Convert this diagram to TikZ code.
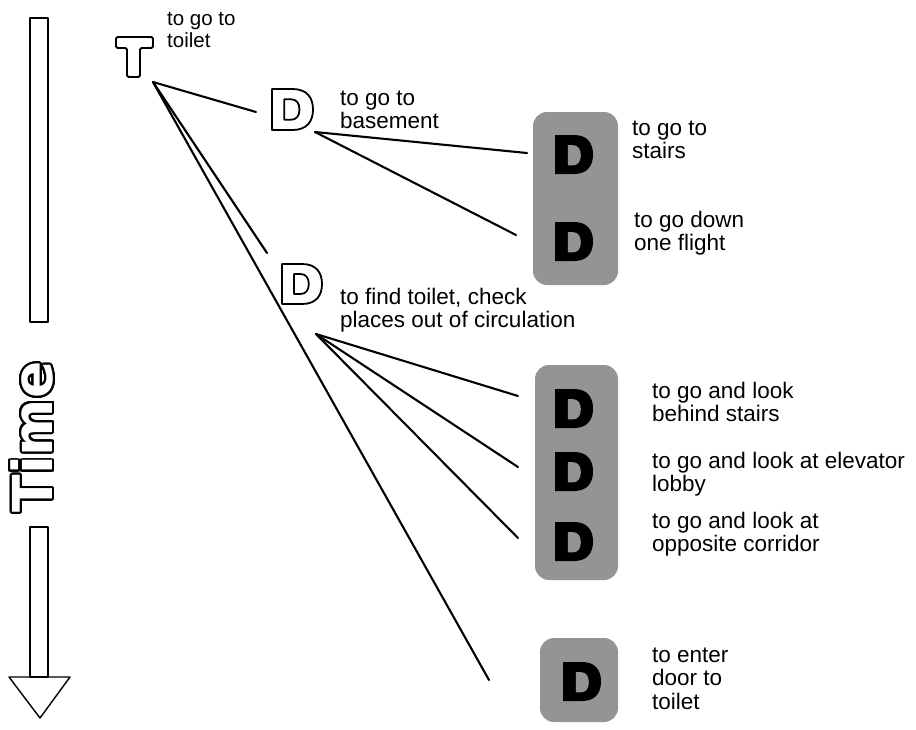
\documentclass[tikz,border=0pt]{standalone}
\usepackage{fontspec}
\setmainfont{Liberation Sans}
\newfontfamily\timefont{DejaVu Sans}
\newcommand\textlines[1]{\begin{tabular}[t]{@{}l@{}}#1\end{tabular}}
\colorlet{screen}{black!42}
\begin{document}
\begin{tikzpicture}[x=1pt,y=-1pt,
  link/.style={line width=2.1pt, line cap=round},
  barline/.style={line width=1.4pt, line join=round},
  glyphline/.style={line width=1.8pt, line join=round},
  halftone/.style={fill=screen, rounded corners=14pt},
  lbl/.style={anchor=base west, inner sep=0pt, font=\fontsize{22.5}{23.5}\selectfont},
  smalllbl/.style={anchor=base west, inner sep=0pt, font=\fontsize{20.5}{22}\selectfont},
  timetext/.style={rotate=90, inner sep=0pt, font=\timefont\bfseries\fontsize{55}{55}\selectfont},
  pics/letterD/.style={code={
    \path[pic actions]
      (0,0) -- (0.5,0) .. controls (0.86,0) and (1,0.22) .. (1,0.5)
      .. controls (1,0.78) and (0.86,1) .. (0.5,1) -- (0,1) -- cycle
      (0.3,0.25) -- (0.46,0.25) .. controls (0.6,0.25) and (0.67,0.35) .. (0.67,0.5)
      .. controls (0.67,0.65) and (0.6,0.75) .. (0.46,0.75) -- (0.3,0.75) -- cycle;
  }},
  pics/solidD/.style={code={
    \fill (0,0) -- (0.5,0) .. controls (0.86,0) and (1,0.22) .. (1,0.5)
      .. controls (1,0.78) and (0.86,1) .. (0.5,1) -- (0,1) -- cycle;
    \fill[screen] (0.34,0.26) -- (0.47,0.26) .. controls (0.6,0.26) and (0.68,0.36) .. (0.68,0.52)
      .. controls (0.68,0.68) and (0.6,0.78) .. (0.47,0.78) -- (0.34,0.78) -- cycle;
  }},
]
\useasboundingbox (0,0) rectangle (916,729);

% time axis: shaft, label and arrow head
\draw[barline] (30,18) rectangle (48,322);
\draw[barline] (30,527) rectangle (48,677);
\draw[barline] (9,677) -- (70,677) -- (40,718) -- cycle;
\foreach \a in {0,12,...,348}
  \node[timetext, text=black] at ([shift={(\a:2)}] 32,437) {Time};
\node[timetext, text=white] (time) at (32,437) {Time};

% shaded groups of sub-decisions
\fill[halftone] (533,112) rectangle (618,285);
\fill[halftone] (535,365) rectangle (618,580);
\fill[halftone] (540,638) rectangle (618,722);

% task glyph
\node[inner sep=0pt, minimum width=37pt, minimum height=40pt] (task) at (135,57) {};
\draw[glyphline, rounded corners=1.5pt]
  (116,37) -- (153,37) -- (153,48) -- (140,48) -- (140,77) -- (127,77)
  -- (127,48) -- (116,48) -- cycle;

% outlined decision glyphs
\pic[draw, glyphline, scale=41] at (272,89) {letterD};
\pic[draw, glyphline, scale=40] at (282,264) {letterD};

% solid decision glyphs
\pic[xscale=38, yscale=39] at (555,135) {solidD};
\pic[xscale=38, yscale=39] at (555,222) {solidD};
\pic[xscale=38, yscale=39] at (555,389) {solidD};
\pic[xscale=38, yscale=39] at (555,452) {solidD};
\pic[xscale=38, yscale=39] at (555,522) {solidD};
\pic[xscale=38, yscale=39] at (563,662) {solidD};

% connector end points
\coordinate (toilet-root) at (153,82);
\coordinate (basement) at (256,112);
\coordinate (findtoilet) at (267,253);
\coordinate (enterdoor) at (489,680);
\coordinate (basement-root) at (315,132);
\coordinate (stairs) at (527,153);
\coordinate (downflight) at (516,235);
\coordinate (findtoilet-root) at (316,334);
\coordinate (behindstairs) at (518,396);
\coordinate (lobby) at (518,467);
\coordinate (corridor) at (518,538);

\draw[link] (toilet-root) -- (basement);
\draw[link] (toilet-root) -- (findtoilet);
\draw[link] (toilet-root) -- (enterdoor);
\draw[link] (basement-root) -- (stairs);
\draw[link] (basement-root) -- (downflight);
\draw[link] (findtoilet-root) -- (behindstairs);
\draw[link] (findtoilet-root) -- (lobby);
\draw[link] (findtoilet-root) -- (corridor);

% labels
\node[smalllbl] (l-toilet) at (167,25) {\textlines{to go to\\toilet}};
\node[lbl] (l-basement) at (340,105) {\textlines{to go to\\basement}};
\node[lbl] (l-stairs) at (632,135) {\textlines{to go to\\stairs}};
\node[lbl] (l-down) at (634,227) {\textlines{to go down\\one flight}};
\node[lbl] (l-find) at (340,304) {\textlines{to find toilet, check\\places out of circulation}};
\node[lbl] (l-behind) at (652,398) {\textlines{to go and look\\behind stairs}};
\node[lbl] (l-lobby) at (652,468) {\textlines{to go and look at elevator\\lobby}};
\node[lbl] (l-corridor) at (652,528) {\textlines{to go and look at\\opposite corridor}};
\node[lbl] (l-door) at (652,662) {\textlines{to enter\\door to\\toilet}};
\end{tikzpicture}
\end{document}
